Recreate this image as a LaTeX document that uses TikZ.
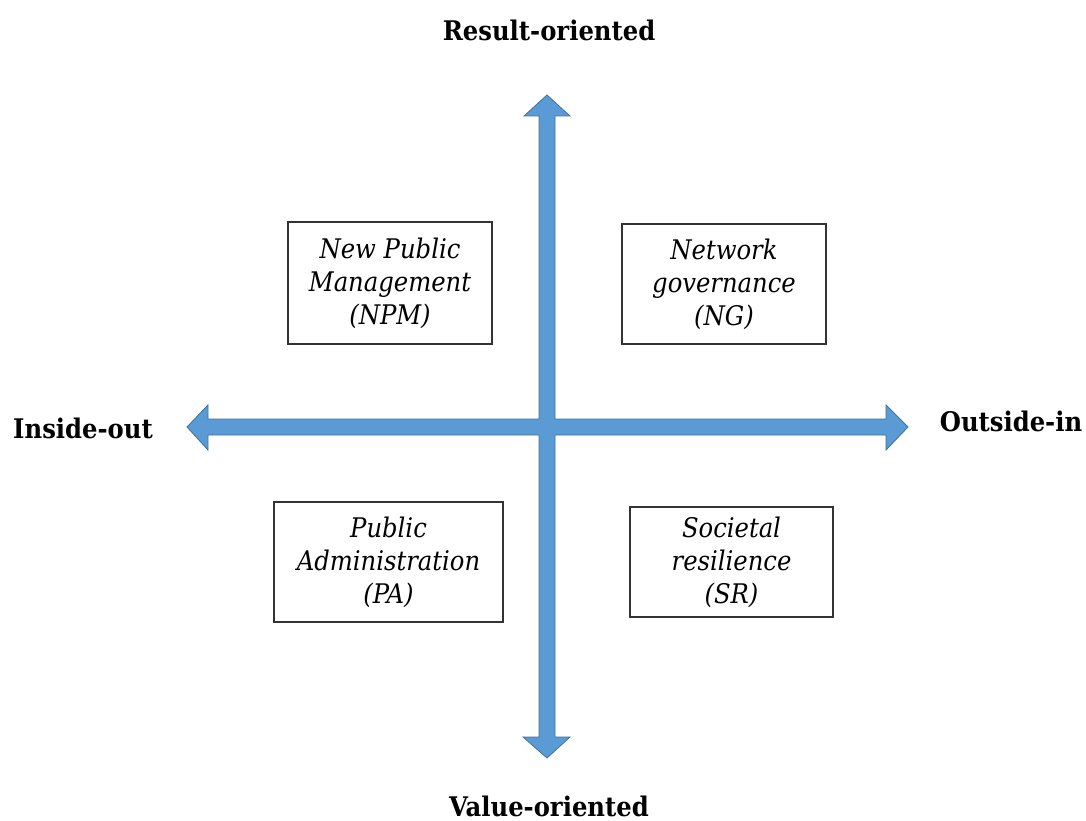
\documentclass[tikz,border=0pt]{standalone}
\usepackage{fontspec}
\setmainfont{DejaVu Serif Condensed}
\definecolor{arrowfill}{HTML}{5B9BD5}
\definecolor{arrowline}{HTML}{41719C}
\begin{document}
\begin{tikzpicture}[x=1pt,y=-1pt,
  quadbox/.style={draw=black!80, line width=1.2pt, fill=white, align=center,
    inner sep=0pt, font=\fontsize{27}{33}\selectfont\itshape},
  axislabel/.style={font=\fontsize{27}{30}\selectfont\bfseries, inner sep=0pt}]
\useasboundingbox[fill=white] (0,0) rectangle (1086,821);
% cross-shaped double arrows
\path[fill=arrowfill, draw=arrowline, line width=0.8pt, line join=miter]
  (547,95) -- (570,116) -- (555,116) -- (555,419)
  -- (886,419) -- (886,405) -- (908,427) -- (886,450) -- (886,435)
  -- (555,435) -- (555,737) -- (570,737) -- (547,758) -- (523,737) -- (539,737)
  -- (539,435) -- (208,435) -- (208,450) -- (187,427) -- (208,405) -- (208,419)
  -- (539,419) -- (539,116) -- (524,116) -- cycle;
% axis labels
\node[axislabel] (top) at (549,30) {Result-oriented};
\node[axislabel] (bottom) at (549,806) {Value-oriented};
\node[axislabel] (left) at (83,428) {Inside-out};
\node[axislabel] (right) at (1011,421) {Outside-in};
% quadrant boxes
\node[quadbox, minimum width=204pt, minimum height=122pt] (npm) at (390,283)
  {New Public\\Management\\(NPM)};
\node[quadbox, minimum width=204pt, minimum height=120pt] (ng) at (724,284)
  {Network\\governance\\(NG)};
\node[quadbox, minimum width=229pt, minimum height=120pt] (pa) at (388.5,562)
  {Public\\Administration\\(PA)};
\node[quadbox, minimum width=203pt, minimum height=110pt] (sr) at (731.5,562)
  {Societal\\resilience\\(SR)};
\end{tikzpicture}
\end{document}
